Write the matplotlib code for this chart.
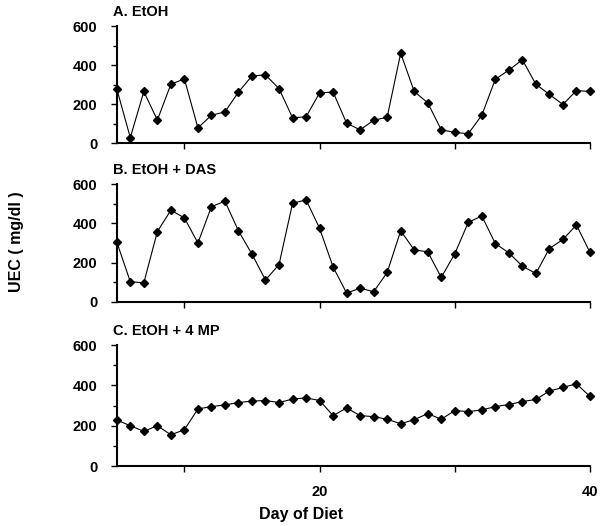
import matplotlib.pyplot as plt
import numpy as np

days = np.arange(5, 41)

etoh = [278, 28, 265, 118, 302, 330, 78, 143, 160, 262, 345, 350, 280, 130, 135, 258,
        262, 102, 68, 117, 133, 462, 265, 207, 68, 55, 48, 143, 328, 375, 428, 302,
        250, 198, 270, 265]
etoh_das = [305, 103, 97, 358, 467, 428, 300, 485, 513, 362, 243, 112, 190, 502, 520, 375,
            178, 45, 70, 52, 150, 362, 265, 255, 125, 245, 405, 438, 297, 250, 182, 145,
            272, 318, 392, 252]
etoh_4mp = [228, 200, 172, 200, 155, 180, 283, 295, 303, 315, 322, 325, 315, 332, 338, 325,
            250, 288, 250, 245, 232, 210, 230, 260, 232, 275, 270, 278, 295, 305, 320, 330,
            372, 390, 408, 345]

titles = ['A. EtOH', 'B. EtOH + DAS', 'C. EtOH + 4 MP']
series = [etoh, etoh_das, etoh_4mp]

plt.rcParams['font.family'] = ['Liberation Sans', 'DejaVu Sans']

fig = plt.figure(figsize=(6.02, 5.26), dpi=100)
# left, bottom, width, height for each panel
boxes = [[0.194, 0.728, 0.786, 0.222],
         [0.194, 0.426, 0.786, 0.224],
         [0.194, 0.114, 0.786, 0.230]]

for i, (box, vals, title) in enumerate(zip(boxes, series, titles)):
    ax = fig.add_axes(box)
    ax.plot(days, vals, color='black', lw=0.8, marker='D', markersize=4.5, clip_on=False)
    ax.set_xlim(5, 40)
    ax.set_ylim(0, 600)
    ax.set_yticks([0, 200, 400, 600])
    ax.set_yticks([100, 300, 500], minor=True)
    ax.set_xticks([10, 20, 30, 40])
    if i == 2:
        ax.set_xticklabels(['', '20', '', '40'])
    else:
        ax.set_xticklabels([])
    for s in ['top', 'right']:
        ax.spines[s].set_visible(False)
    for s in ['left', 'bottom']:
        ax.spines[s].set_linewidth(1.5)
    ax.tick_params(axis='both', which='major', length=4, width=1, labelsize=10.5, pad=10)
    ax.tick_params(axis='y', which='minor', length=3, width=1)
    for lab in ax.get_yticklabels() + ax.get_xticklabels():
        lab.set_fontweight('bold')
    ax.text(-0.008, 1.06, title, transform=ax.transAxes, fontsize=10.5,
            fontweight='bold', ha='left', va='bottom')

fig.text(0.5, 0.022, 'Day of Diet', ha='center', va='center', fontsize=11.5, fontweight='bold')
fig.text(0.028, 0.54, 'UEC ( mg/dl )', ha='center', va='center', rotation=90,
         fontsize=11.5, fontweight='bold')

plt.savefig('out.png', dpi=100)
